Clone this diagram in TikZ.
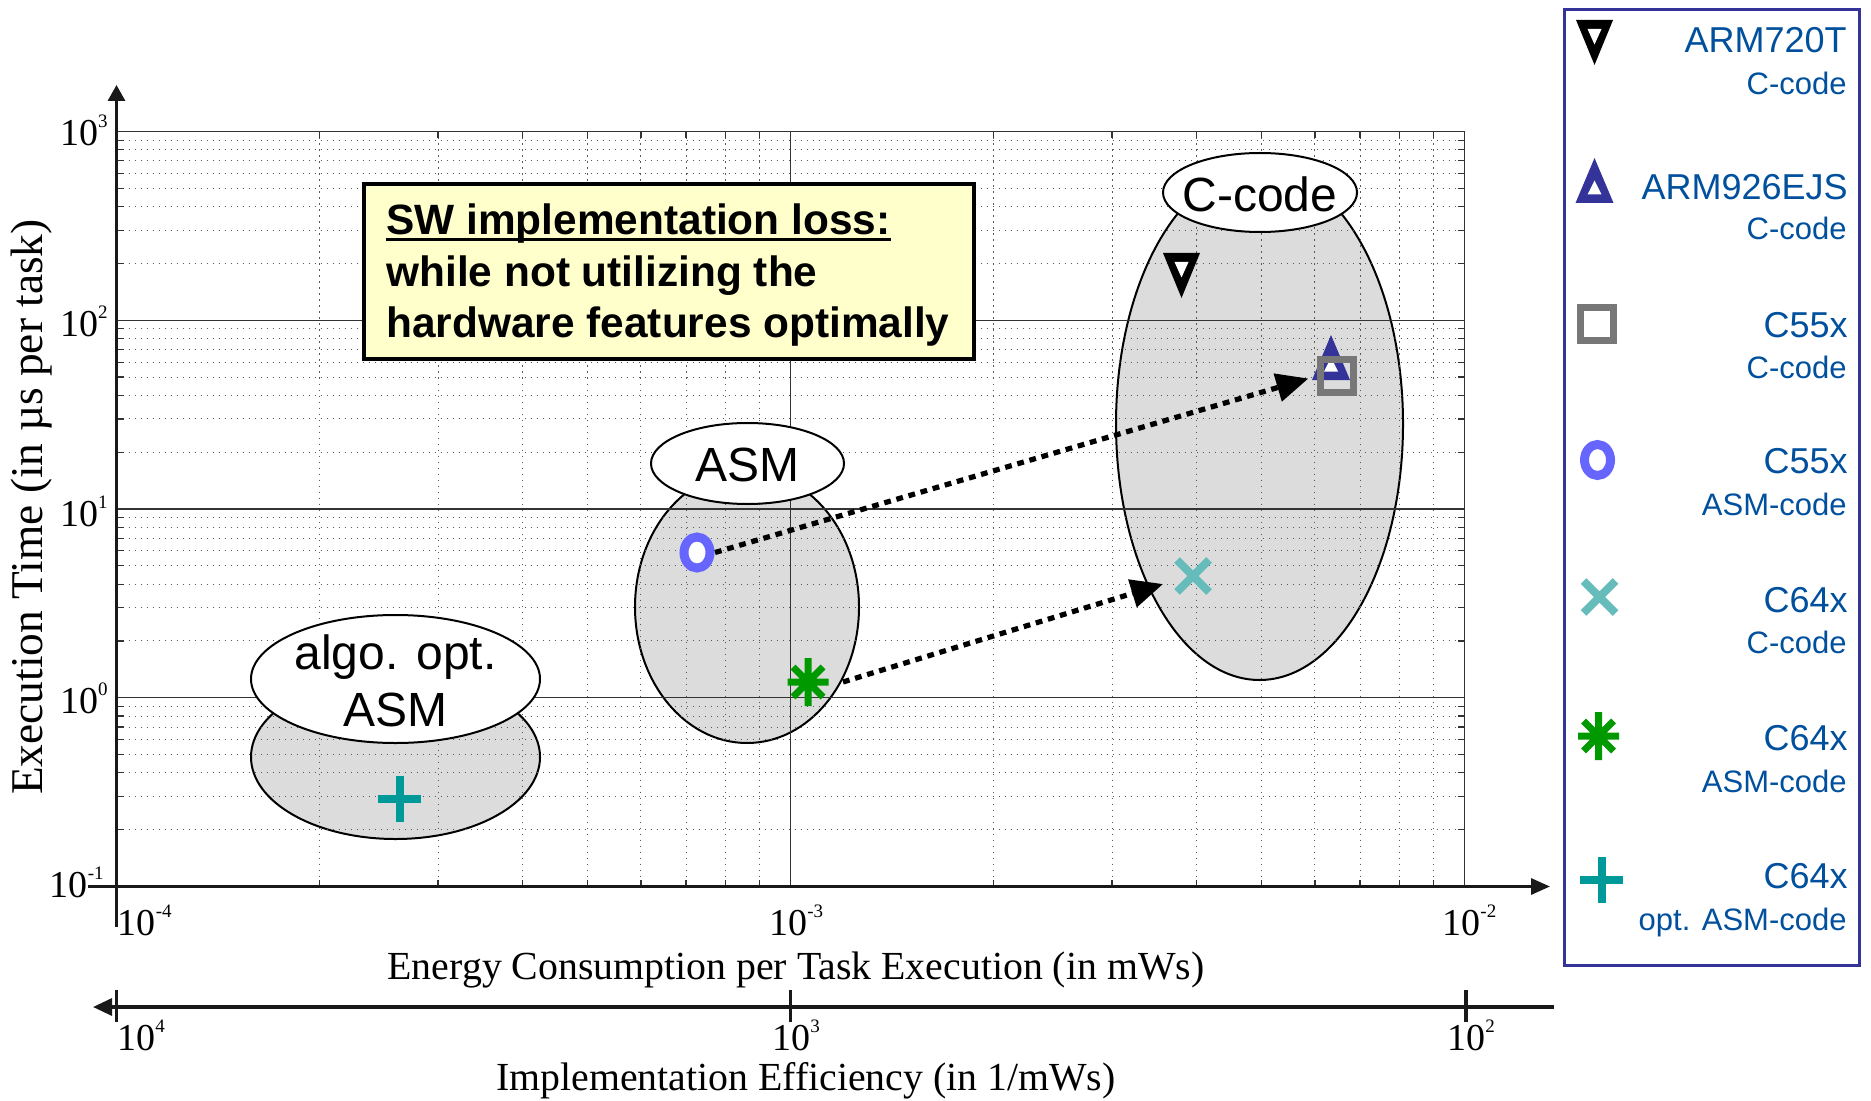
\documentclass[tikz,border=0pt]{standalone}
\usepackage{fontspec}
\setmainfont{Liberation Serif}
\newfontfamily\arial{Liberation Sans}
\usetikzlibrary{arrows.meta}

\definecolor{grpfill}{HTML}{DCDCDC}
\definecolor{notefill}{HTML}{FFFFCC}
\definecolor{legframe}{HTML}{333399}
\definecolor{legtext}{HTML}{00509E}
\definecolor{mkblue}{HTML}{333399}
\definecolor{mkgray}{HTML}{777777}
\definecolor{mkviolet}{HTML}{6666FF}
\definecolor{mkcyan}{HTML}{66BBBB}
\definecolor{mkgreen}{HTML}{009900}
\definecolor{mkteal}{HTML}{009999}

% power of ten with a small raised exponent
\newcommand\tenp[1]{10\raisebox{9pt}{\fontsize{9.5}{9.5}\selectfont #1}}

\tikzset{
  grp/.style={draw=black, line width=1pt, fill=grpfill},
  lblell/.style={draw=black, line width=1pt, fill=white},
  lbltxt/.style={font=\arial\fontsize{24}{28.5}\selectfont, inner sep=0, align=center},
  gridminor/.style={draw=black!65, line width=0.5pt, dash pattern=on 0.7pt off 2.3pt},
  gridmajor/.style={draw=black!80, line width=0.6pt},
  tickmark/.style={draw=black!80, line width=0.6pt},
  axis/.style={draw=black!90, line width=1.6pt},
  ticklbl/.style={font=\fontsize{19}{19}\selectfont, inner sep=0},
  axlbl/.style={font=\fontsize{19.9}{19.9}\selectfont, inner sep=0},
  notebox/.style={draw=black, line width=2pt, fill=notefill, inner sep=0,
    minimum width=305pt, minimum height=87.5pt},
  notetxt/.style={font=\arial\bfseries\fontsize{21.2}{25}\selectfont, inner sep=0, anchor=base west},
  legbox/.style={draw=legframe, line width=1.7pt, fill=white, inner sep=0,
    minimum width=147.5pt, minimum height=478pt},
  legA/.style={font=\arial\fontsize{18}{18}\selectfont, text=legtext, inner sep=0, anchor=base east},
  legB/.style={font=\arial\fontsize{15.5}{15.5}\selectfont, text=legtext, inner sep=0, anchor=base east},
  mk/.style={inner sep=0, outer sep=0, minimum width=#1, minimum height=20pt},
  dotarrow/.style={draw=black, line width=2.6pt, dash pattern=on 3.4pt off 2.9pt,
    -{Triangle[length=16pt,width=14pt]}},
  tridown/.pic={
    \fill[black] (-18.5,-22.5) -- (18.5,-22.5) -- (0,22.5) -- cycle;
    \fill[white] (-7,-13.5) -- (7,-13.5) -- (0,2) -- cycle;},
  triup/.pic={
    \fill[mkblue] (-19,22.5) -- (19,22.5) -- (0,-22.5) -- cycle;
    \fill[white] (-7,14) -- (7,14) -- (0,0) -- cycle;},
  sqmark/.pic={\draw[mkgray, line width=3.5pt] (-16.5,-16.5) rectangle (16.5,16.5);},
  omark/.pic={\draw[mkviolet, line width=4.5pt, fill=white] (0,0) ellipse [x radius=13, y radius=15.5];},
  xmark/.pic={\draw[mkcyan, line width=4pt] (-16,-16) -- (16,16) (-16,16) -- (16,-16);},
  astmark/.pic={\draw[mkgreen, line width=3.5pt] (0,-24) -- (0,24) (-20.5,0) -- (20.5,0)
    (-15,-15) -- (15,15) (-15,15) -- (15,-15);},
  plusmark/.pic={\draw[mkteal, line width=4pt] (0,-23) -- (0,23) (-21.5,0) -- (21.5,0);},
}

\begin{document}
\begin{tikzpicture}[x=0.5pt,y=-0.5pt]
\useasboundingbox (0,0) rectangle (1871,1101);

% shaded groups
\draw[grp] (395.5,757) ellipse [x radius=144.5, y radius=82];
\draw[grp] (747,607) ellipse [x radius=112, y radius=136];
\draw[grp] (1259.5,424) ellipse [x radius=143.5, y radius=256];

% logarithmic grid
\foreach \d in {0,1}{\foreach \m in {2,...,9}{
  \pgfmathsetmacro\gx{116.5+674*(\d+log10(\m))}
  \draw[gridminor] (\gx,131.5) -- (\gx,886.5);
  \draw[tickmark] (\gx,886.5) -- (\gx,879.5) (\gx,131.5) -- (\gx,138.5);
}}
\foreach \d in {0,...,3}{\foreach \m in {2,...,9}{
  \pgfmathsetmacro\gy{886.5-188.75*(\d+log10(\m))}
  \draw[gridminor] (116.5,\gy) -- (1464.5,\gy);
  \draw[tickmark] (116.5,\gy) -- (123.5,\gy) (1464.5,\gy) -- (1457.5,\gy);
}}
\foreach \gx in {790.5,1464.5} \draw[gridmajor] (\gx,131.5) -- (\gx,886.5);
\foreach \gy in {131.5,320.25,509,697.75} \draw[gridmajor] (116.5,\gy) -- (1464.5,\gy);

% axes
\coordinate (ybot) at (116.5,927);
\coordinate (ytop) at (116.5,85);
\coordinate (xleft) at (88,886.5);
\coordinate (xright) at (1550,886.5);
\coordinate (eright) at (1554,1007);
\coordinate (eleft) at (93,1007);
\draw[axis,-{Triangle[length=8pt,width=8.5pt]}] (ybot) -- (ytop);
\draw[axis,-{Triangle[length=9.5pt,width=8pt]}] (xleft) -- (xright);
\draw[axis,-{Triangle[length=9.5pt,width=8.5pt]}] (eright) -- (eleft);
\foreach \gx in {116.5,790.5,1466} \draw[axis] (\gx,990) -- (\gx,1022);

% tick labels
\node[ticklbl,anchor=base east] (ty3) at (108,146) {\tenp{3}};
\node[ticklbl,anchor=base east] (ty2) at (108,336) {\tenp{2}};
\node[ticklbl,anchor=base east] (ty1) at (108,526) {\tenp{1}};
\node[ticklbl,anchor=base east] (ty0) at (108,713) {\tenp{0}};
\node[ticklbl,anchor=base east] (tym1) at (104,897) {\tenp{-1}};
\node[ticklbl,anchor=base west] (tx4) at (117.5,935) {\tenp{-4}};
\node[ticklbl,anchor=base west] (tx3) at (769,935) {\tenp{-3}};
\node[ticklbl,anchor=base west] (tx2) at (1442,935) {\tenp{-2}};
\node[ticklbl,anchor=base west] (te4) at (117,1050) {\tenp{4}};
\node[ticklbl,anchor=base west] (te3) at (772,1050) {\tenp{3}};
\node[ticklbl,anchor=base west] (te2) at (1447,1050) {\tenp{2}};

% axis titles
\node[axlbl] (xtitle) at (796,970) {Energy Consumption per Task Execution (in mWs)};
\node[axlbl] (etitle) at (806,1081) {Implementation Efficiency (in 1/mWs)};
\node[axlbl,rotate=90,font=\fontsize{22.7}{22.7}\selectfont] (ytitle) at (32,507) {Execution Time (in µs per task)};

% group labels
\draw[lblell] (395.5,679) ellipse [x radius=144.5, y radius=64];
\node[lbltxt] (galgo) at (395.5,681) {algo. opt.\\ASM};
\draw[lblell] (747.5,463.5) ellipse [x radius=96.5, y radius=40.5];
\node[lbltxt] (gasm) at (747.5,465) {ASM};
\draw[lblell] (1260,192.5) ellipse [x radius=97, y radius=39.5];
\node[lbltxt] (gcc) at (1260,194) {C-code};

% note
\node[notebox] (note) at (669,271.5) {};
\node[notetxt] (note1) at (386,235) {SW implementation loss:};
\node[notetxt] (note2) at (386,286) {while not utilizing the};
\node[notetxt] (note3) at (386,337) {hardware features optimally};
\draw[line width=1.6pt] ([yshift=-2.3pt]note1.base west) -- ([yshift=-2.3pt]note1.base east);

% measured points
\node[mk=20pt] (arm7) at (1181.5,275.5) {};
\node[mk=20pt] (arm9) at (1331,357.5) {};
\node[mk=20pt] (c55c) at (1337,376) {};
\node[mk=18pt] (c55asm) at (697,552.5) {};
\node[mk=30pt] (c64c) at (1193,576) {};
\node[mk=35pt] (c64asm) at (808,682) {};
\node[mk=20pt] (c64opt) at (399.5,798.5) {};
\pic at (arm7) {tridown};
\pic at (arm9) {triup};
\pic at (c55c) {sqmark};
\pic at (c55asm) {omark};
\pic at (c64c) {xmark};
\pic at (c64asm) {astmark};
\pic at (c64opt) {plusmark};

% improvement arrows
\draw[dotarrow, shorten >=4.5pt] (c55asm.east) -- (c55c.west);
\draw[dotarrow] (c64asm.east) -- (c64c.195);

% legend
\node[legbox] (legend) at (1711.75,487.75) {};
\node[mk=20pt] (lm1) at (1594.5,42.5) {};
\node[mk=20pt] (lm2) at (1594.5,180.5) {};
\node[mk=20pt] (lm3) at (1597,324) {};
\node[mk=20pt] (lm4) at (1597.5,460) {};
\node[mk=20pt] (lm5) at (1599.5,597) {};
\node[mk=20pt] (lm6) at (1598.5,736) {};
\node[mk=20pt] (lm7) at (1601.5,880) {};
\pic at (lm1) {tridown};
\pic at (lm2) {triup};
\pic at (lm3) {sqmark};
\pic at (lm4) {omark};
\pic at (lm5) {xmark};
\pic at (lm6) {astmark};
\pic at (lm7) {plusmark};
\node[legA] (la1) at (1847,53) {ARM720T};
\node[legB] (lb1) at (1847,95) {C-code};
\node[legA] (la2) at (1848,200) {ARM926EJS};
\node[legB] (lb2) at (1847,240) {C-code};
\node[legA] (la3) at (1848,337) {C55x};
\node[legB] (lb3) at (1847,378) {C-code};
\node[legA] (la4) at (1848,473) {C55x};
\node[legB] (lb4) at (1847,515) {ASM-code};
\node[legA] (la5) at (1848,612) {C64x};
\node[legB] (lb5) at (1847,653) {C-code};
\node[legA] (la6) at (1848,750) {C64x};
\node[legB] (lb6) at (1847,792) {ASM-code};
\node[legA] (la7) at (1848,888) {C64x};
\node[legB] (lb7) at (1847,930) {opt. ASM-code};
\end{tikzpicture}
\end{document}
